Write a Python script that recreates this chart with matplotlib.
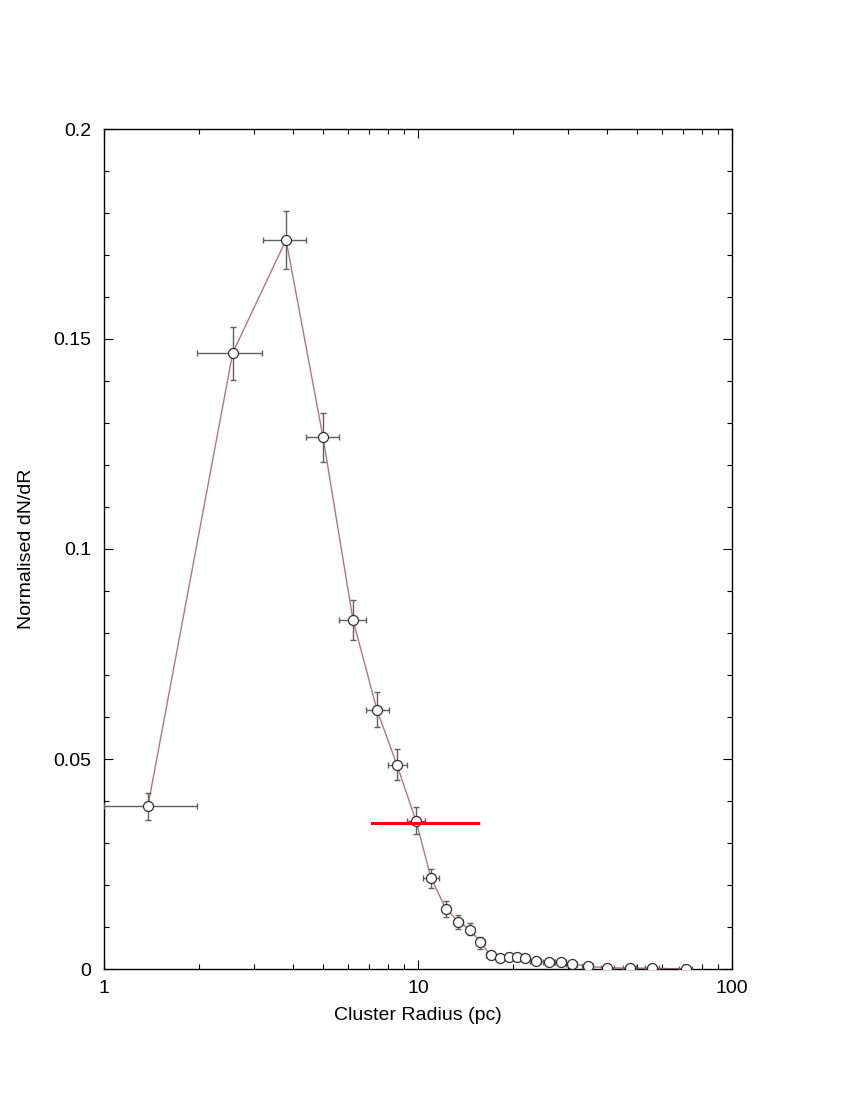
import matplotlib
matplotlib.use("Agg")
import matplotlib.pyplot as plt
from matplotlib.ticker import FixedLocator, FuncFormatter, LogLocator, NullFormatter, MultipleLocator

plt.rcParams['font.family'] = ['Liberation Sans', 'DejaVu Sans']

# Data
radius = [1.38, 2.57, 3.80, 4.98, 6.21, 7.40, 8.57, 9.86, 11.0, 12.25, 13.44, 14.64,
          15.79, 17.04, 18.24, 19.45, 20.66, 21.88, 23.7, 26.07, 28.46, 30.94, 34.7,
          40.1, 47.2, 55.7, 71.3]
dndr = [0.0388, 0.1467, 0.1736, 0.1267, 0.0831, 0.0617, 0.0486, 0.0352, 0.0217, 0.0144,
        0.0113, 0.0094, 0.0064, 0.0033, 0.0026, 0.0028, 0.0029, 0.0027, 0.0019, 0.0017,
        0.0017, 0.0013, 0.0006, 0.0003, 0.0002, 0.0002, 0.0000]
x_lo = [1.00, 1.98, 3.21, 4.40, 5.60, 6.83, 8.00, 9.22, 10.4, 11.95, 13.0, 14.2,
        15.3, 16.5, 17.7, 18.9, 20.1, 21.3, 22.8, 25.0, 27.3, 29.7, 33.2,
        38.2, 45.0, 53.0, 68.0]
x_hi = [1.98, 3.19, 4.40, 5.60, 6.83, 8.08, 9.22, 10.5, 11.66, 12.58, 13.9, 15.1,
        16.3, 17.6, 18.8, 20.0, 21.2, 22.5, 24.6, 27.2, 29.7, 32.2, 36.2,
        42.0, 49.5, 58.5, 74.5]
y_lo = [0.0355, 0.1402, 0.1667, 0.1207, 0.0783, 0.0576, 0.0450, 0.0321, 0.0193, 0.0124,
        0.0095, 0.0081, 0.0048, 0.0026, 0.0020, 0.0022, 0.0023, 0.0021, 0.0014, 0.0012,
        0.0012, 0.0009, 0.0003, 0.0001, 0.0000, 0.0000, 0.0000]
y_hi = [0.0419, 0.1529, 0.1805, 0.1324, 0.0879, 0.0660, 0.0524, 0.0386, 0.0238, 0.0163,
        0.0129, 0.0109, 0.0076, 0.0040, 0.0032, 0.0034, 0.0035, 0.0033, 0.0024, 0.0022,
        0.0022, 0.0017, 0.0009, 0.0005, 0.0004, 0.0004, 0.0002]

ref_x = [7.14, 15.53]
ref_y = [0.0348, 0.0348]

xerr = [[r - l for r, l in zip(radius, x_lo)], [h - r for r, h in zip(radius, x_hi)]]
yerr = [[v - l for v, l in zip(dndr, y_lo)], [h - v for v, h in zip(dndr, y_hi)]]

fig = plt.figure(figsize=(8.5, 11), dpi=100)
ax = fig.add_axes([104/850, 1 - 969/1100, (732-104)/850, (969-129)/1100])

ax.plot(radius, dndr, color='#b07878', lw=1.0, zorder=2)
ax.errorbar(radius, dndr, xerr=xerr, yerr=yerr, fmt='none', ecolor='#606060',
            elinewidth=1.0, capsize=2.5, capthick=1.0, zorder=3)
ax.plot(radius, dndr, linestyle='none', marker='o', markersize=7.2,
        markerfacecolor='white', markeredgecolor='#303030', markeredgewidth=0.9, zorder=4)
ax.plot(ref_x, ref_y, color='#ff0000', lw=2.2, zorder=5)

ax.set_xscale('log')
ax.set_xlim(1, 100)
ax.set_ylim(0, 0.2)
ax.xaxis.set_major_locator(FixedLocator([1, 10, 100]))
ax.xaxis.set_major_formatter(FuncFormatter(lambda v, p: '%g' % v))
ax.xaxis.set_minor_locator(LogLocator(base=10, subs=range(2, 10)))
ax.xaxis.set_minor_formatter(NullFormatter())
ax.yaxis.set_major_locator(MultipleLocator(0.05))
ax.yaxis.set_minor_locator(MultipleLocator(0.01))
ax.yaxis.set_major_formatter(FuncFormatter(lambda v, p: '%g' % round(v, 3)))

ax.tick_params(which='both', direction='in', top=True, right=True, width=0.8, colors='black')
ax.tick_params(which='major', length=6.5, labelsize=14)
ax.tick_params(axis='y', which='major', pad=9)
ax.tick_params(axis='x', which='major', pad=8)
ax.tick_params(which='minor', length=3.5)
for s in ax.spines.values():
    s.set_linewidth(1.0)

ax.set_xlabel('Cluster Radius (pc)', fontsize=14, labelpad=7)
ax.set_ylabel('Normalised dN/dR', fontsize=14, labelpad=13)

fig.savefig('out.png', dpi=100)
